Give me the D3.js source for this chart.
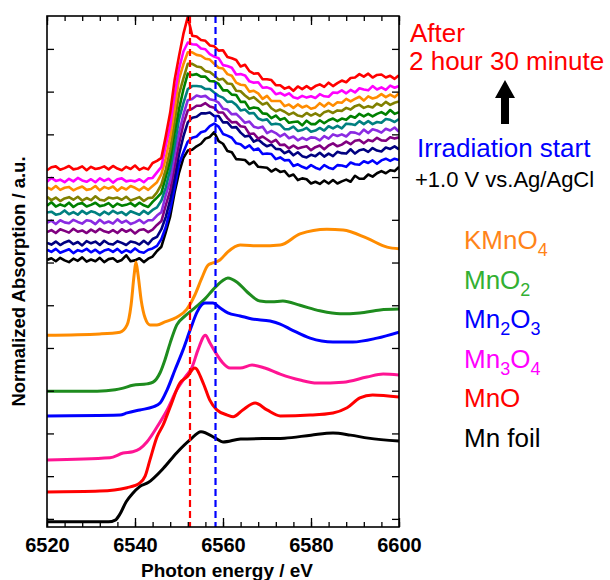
<!DOCTYPE html>
<html>
<head>
<meta charset="utf-8">
<script src="https://cdn.jsdelivr.net/npm/d3@7"></script>
<style>
  body { margin: 0; background: #fff; }
  svg { display: block; font-family: "Liberation Sans", Arial, sans-serif; }
</style>
</head>
<body>
<div id="chart"></div>
<script>
// in-situ spectra, 1 eV steps, stacked bottom (start) to top (2 h 30 min)
const insituEnergy = [
  6520, 6521, 6522, 6523, 6524, 6525, 6526, 6527, 6528, 6529,
  6530, 6531, 6532, 6533, 6534, 6535, 6536, 6537, 6538, 6539,
  6540, 6541, 6542, 6543, 6544, 6545, 6546, 6547, 6548, 6549,
  6550, 6551, 6552, 6553, 6554, 6555, 6556, 6557, 6558, 6559,
  6560, 6561, 6562, 6563, 6564, 6565, 6566, 6567, 6568, 6569,
  6570, 6571, 6572, 6573, 6574, 6575, 6576, 6577, 6578, 6579,
  6580, 6581, 6582, 6583, 6584, 6585, 6586, 6587, 6588, 6589,
  6590, 6591, 6592, 6593, 6594, 6595, 6596, 6597, 6598, 6599, 6600];

const insitu0 = [6.06, 6.10, 6.03, 6.11, 6.05, 6.01, 6.09, 6.04, 6.12, 6.02, 6.07, 6.03, 6.11, 6.01, 6.08, 6.10, 6.02, 6.06, 6.17, 6.03, 6.05, 6.10, 6.01, 6.09, 6.14,
  6.27, 6.37, 6.71, 7.08, 7.64, 8.10, 8.45, 8.62, 8.64, 8.72, 8.78, 8.90, 8.94, 9.05,
  8.84, 8.78, 8.61, 8.58, 8.42, 8.41, 8.40, 8.30, 8.36, 8.24, 8.23, 8.22, 8.13, 8.19, 8.12, 8.14, 8.02, 8.06, 7.93, 7.97, 7.95, 7.85, 7.89, 7.84, 7.92, 7.85, 7.93, 7.85, 7.90, 7.94, 7.89, 8.03, 7.96, 7.96, 8.06, 8.01, 8.09, 8.14, 8.09, 8.16, 8.14, 8.24];
const insitu1 = [6.30, 6.25, 6.32, 6.23, 6.27, 6.31, 6.22, 6.29, 6.26, 6.32, 6.24, 6.30, 6.22, 6.28, 6.31, 6.25, 6.32, 6.23, 6.29, 6.24, 6.33, 6.25, 6.23, 6.30, 6.33,
  6.39, 6.55, 6.83, 7.24, 7.75, 8.30, 8.58, 8.83, 8.92, 8.95, 9.05, 9.08, 9.19, 9.25,
  9.18, 9.01, 8.97, 8.92, 8.79, 8.77, 8.68, 8.74, 8.63, 8.67, 8.54, 8.55, 8.54, 8.42, 8.46, 8.39, 8.40, 8.26, 8.30, 8.24, 8.20, 8.28, 8.22, 8.18, 8.28, 8.22, 8.19, 8.28, 8.27, 8.24, 8.34, 8.30, 8.29, 8.37, 8.33, 8.39, 8.31, 8.39, 8.43, 8.38, 8.43, 8.40];
const insitu2 = [6.46, 6.42, 6.49, 6.41, 6.47, 6.51, 6.43, 6.48, 6.40, 6.50, 6.45, 6.49, 6.41, 6.51, 6.44, 6.42, 6.50, 6.46, 6.41, 6.49, 6.47, 6.42, 6.51, 6.43, 6.55,
  6.60, 6.78, 7.07, 7.47, 7.98, 8.53, 8.95, 9.28, 9.39, 9.41, 9.49, 9.49, 9.51, 9.43,
  9.43, 9.28, 9.28, 9.16, 9.17, 9.04, 8.95, 8.97, 8.83, 8.88, 8.79, 8.72, 8.76, 8.66, 8.65, 8.56, 8.61, 8.51, 8.58, 8.49, 8.46, 8.52, 8.49, 8.57, 8.48, 8.55, 8.49, 8.59, 8.56, 8.55, 8.65, 8.55, 8.63, 8.65, 8.59, 8.68, 8.62, 8.60, 8.69, 8.66, 8.72, 8.65];
const insitu3 = [6.71, 6.76, 6.69, 6.78, 6.74, 6.70, 6.79, 6.72, 6.75, 6.69, 6.77, 6.71, 6.79, 6.73, 6.70, 6.76, 6.69, 6.78, 6.72, 6.77, 6.68, 6.76, 6.78, 6.71, 6.77,
  6.88, 6.97, 7.34, 7.69, 8.25, 8.78, 9.24, 9.56, 9.60, 9.67, 9.67, 9.73, 9.65, 9.62,
  9.51, 9.51, 9.38, 9.28, 9.29, 9.19, 9.17, 9.01, 9.02, 8.90, 8.95, 8.88, 8.81, 8.87, 8.75, 8.76, 8.67, 8.74, 8.67, 8.70, 8.72, 8.63, 8.70, 8.74, 8.65, 8.74, 8.79, 8.72, 8.76, 8.83, 8.77, 8.85, 8.87, 8.79, 8.87, 8.84, 8.92, 8.86, 8.85, 8.93, 8.90, 8.93];
const insitu4 = [6.93, 6.98, 6.90, 6.99, 6.94, 6.92, 7.00, 6.95, 6.91, 6.99, 6.97, 6.90, 7.00, 6.92, 6.96, 6.91, 7.01, 6.93, 6.98, 6.90, 6.94, 7.00, 6.92, 6.99, 6.99,
  7.10, 7.18, 7.58, 7.92, 8.52, 9.03, 9.46, 9.80, 9.83, 9.91, 9.88, 9.90, 9.82, 9.80,
  9.74, 9.60, 9.58, 9.47, 9.48, 9.38, 9.27, 9.30, 9.18, 9.15, 9.18, 9.03, 9.08, 9.03, 8.95, 9.01, 8.91, 8.95, 8.86, 8.92, 8.87, 8.93, 8.92, 8.86, 8.96, 8.90, 9.00, 8.96, 9.00, 8.95, 9.05, 9.04, 9.00, 9.11, 9.03, 9.12, 9.09, 9.04, 9.13, 9.09, 9.16, 9.06];
const insitu5 = [7.17, 7.19, 7.12, 7.14, 7.22, 7.13, 7.18, 7.12, 7.21, 7.14, 7.20, 7.17, 7.11, 7.19, 7.13, 7.21, 7.15, 7.18, 7.11, 7.20, 7.16, 7.12, 7.21, 7.14, 7.23,
  7.29, 7.45, 7.76, 8.18, 8.74, 9.35, 9.73, 10.06, 10.13, 10.13, 10.12, 10.06, 10.06, 9.98,
  9.90, 9.86, 9.76, 9.77, 9.69, 9.56, 9.58, 9.49, 9.50, 9.37, 9.33, 9.35, 9.23, 9.25, 9.23, 9.12, 9.12, 9.18, 9.08, 9.10, 9.15, 9.06, 9.09, 9.15, 9.09, 9.19, 9.14, 9.20, 9.14, 9.25, 9.24, 9.22, 9.31, 9.24, 9.31, 9.24, 9.29, 9.27, 9.36, 9.34, 9.29, 9.36];
const insitu6 = [7.33, 7.41, 7.31, 7.36, 7.32, 7.40, 7.30, 7.37, 7.39, 7.31, 7.35, 7.40, 7.32, 7.34, 7.39, 7.30, 7.38, 7.33, 7.35, 7.39, 7.32, 7.40, 7.34, 7.30, 7.42,
  7.52, 7.63, 8.01, 8.39, 9.04, 9.59, 10.05, 10.42, 10.39, 10.41, 10.35, 10.35, 10.25, 10.24,
  10.18, 10.03, 10.03, 9.93, 9.92, 9.76, 9.76, 9.60, 9.63, 9.61, 9.49, 9.48, 9.38, 9.44, 9.34, 9.38, 9.27, 9.29, 9.30, 9.21, 9.32, 9.24, 9.24, 9.33, 9.26, 9.33, 9.37, 9.31, 9.37, 9.34, 9.43, 9.39, 9.48, 9.42, 9.48, 9.42, 9.48, 9.52, 9.46, 9.57, 9.48, 9.52];
const insitu7 = [7.54, 7.46, 7.52, 7.44, 7.50, 7.53, 7.47, 7.54, 7.45, 7.51, 7.46, 7.55, 7.47, 7.45, 7.52, 7.50, 7.52, 7.47, 7.54, 7.45, 7.49, 7.53, 7.44, 7.51, 7.52,
  7.64, 7.83, 8.18, 8.64, 9.30, 9.94, 10.31, 10.65, 10.65, 10.59, 10.57, 10.48, 10.46, 10.38,
  10.28, 10.30, 10.19, 10.18, 10.02, 10.01, 9.91, 9.83, 9.87, 9.78, 9.70, 9.74, 9.61, 9.54, 9.58, 9.53, 9.46, 9.51, 9.44, 9.42, 9.50, 9.44, 9.49, 9.43, 9.52, 9.55, 9.50, 9.56, 9.55, 9.62, 9.58, 9.66, 9.69, 9.62, 9.66, 9.63, 9.72, 9.67, 9.76, 9.69, 9.74, 9.77];
const insitu8 = [7.76, 7.71, 7.79, 7.70, 7.75, 7.77, 7.69, 7.74, 7.78, 7.70, 7.72, 7.79, 7.69, 7.77, 7.73, 7.78, 7.68, 7.76, 7.71, 7.79, 7.75, 7.69, 7.77, 7.70, 7.79,
  7.88, 8.07, 8.44, 8.95, 9.60, 10.29, 10.64, 10.92, 10.92, 10.86, 10.84, 10.77, 10.75, 10.65,
  10.56, 10.54, 10.41, 10.37, 10.21, 10.16, 10.15, 10.00, 10.02, 9.96, 9.83, 9.90, 9.78, 9.78, 9.78, 9.66, 9.70, 9.62, 9.70, 9.63, 9.67, 9.60, 9.63, 9.73, 9.65, 9.74, 9.67, 9.75, 9.74, 9.83, 9.77, 9.83, 9.88, 9.79, 9.89, 9.84, 9.87, 9.94, 9.87, 9.93, 9.87, 9.96];
const insitu9 = [7.89, 7.98, 7.91, 7.94, 7.88, 7.96, 7.90, 7.98, 7.92, 7.89, 7.95, 7.88, 7.97, 7.91, 7.96, 7.87, 7.95, 7.97, 7.90, 7.92, 7.90, 7.95, 7.88, 7.97, 7.98,
  8.11, 8.24, 8.74, 9.21, 9.92, 10.53, 10.94, 11.15, 11.11, 11.10, 11.01, 10.99, 10.88, 10.82,
  10.78, 10.62, 10.60, 10.56, 10.40, 10.41, 10.38, 10.24, 10.21, 10.22, 10.09, 10.10, 10.06, 9.94, 9.97, 9.91, 9.96, 9.87, 9.84, 9.90, 9.86, 9.89, 9.85, 9.94, 9.89, 9.88, 9.98, 9.97, 10.03, 9.96, 10.04, 9.98, 10.08, 10.05, 10.03, 10.13, 10.05, 10.10, 10.04, 10.14, 10.09, 10.13];
const insitu10 = [8.16, 8.23, 8.25, 8.17, 8.21, 8.26, 8.18, 8.20, 8.25, 8.16, 8.24, 8.19, 8.21, 8.25, 8.18, 8.26, 8.20, 8.16, 8.24, 8.19, 8.27, 8.17, 8.22, 8.18, 8.33,
  8.38, 8.45, 8.96, 9.51, 10.27, 10.83, 11.35, 11.75, 11.31, 11.29, 11.21, 11.19, 11.08, 11.06,
  10.96, 10.97, 10.81, 10.78, 10.74, 10.59, 10.63, 10.48, 10.42, 10.43, 10.29, 10.29, 10.27, 10.15, 10.15, 10.07, 10.11, 10.02, 10.12, 10.06, 10.13, 10.06, 10.13, 10.17, 10.11, 10.21, 10.13, 10.20, 10.26, 10.22, 10.32, 10.33, 10.41, 10.35, 10.42, 10.33, 10.39, 10.40, 10.33, 10.37, 10.30, 10.38];

const insituSeries = [insitu0, insitu1, insitu2, insitu3, insitu4, insitu5, insitu6, insitu7, insitu8, insitu9, insitu10];
const insituColors = ["#000000", "#0000ff", "#000080", "#800080", "#8a2be2", "#008080", "#008000", "#808000", "#ff8c00", "#ff00ff", "#ff0000"];

// reference spectra, [energy, absorption]
const refKMnO4 = [[6520, 4.30], [6532, 4.33], [6536.6, 4.37], [6538.2, 4.54], [6539.1, 5.00], [6539.8, 5.71], [6540.2, 6.01], [6540.7, 5.71], [6541.4, 5.12], [6542.3, 4.70], [6543.4, 4.54], [6545, 4.54], [6546.8, 4.61], [6549.5, 4.72], [6551.8, 4.91], [6553.6, 5.24], [6555.2, 5.64], [6556.6, 5.94], [6557.7, 5.99], [6559.3, 6.06], [6561.1, 6.25], [6563.9, 6.41], [6568.4, 6.39], [6573, 6.41], [6577.5, 6.67], [6583.6, 6.78], [6587.3, 6.76], [6592.7, 6.57], [6597.3, 6.36], [6600, 6.32]];
const refMnO2 = [[6520, 2.99], [6531.4, 2.99], [6535.5, 3.02], [6537.3, 3.06], [6539.5, 3.13], [6542.7, 3.16], [6544.1, 3.20], [6545.7, 3.42], [6546.8, 3.72], [6548, 4.12], [6549.5, 4.54], [6551.4, 4.75], [6553.6, 4.94], [6555.9, 5.15], [6557.7, 5.36], [6559.8, 5.57], [6561.1, 5.64], [6563.2, 5.54], [6565.5, 5.31], [6568.4, 5.10], [6571.1, 5.08], [6573.6, 5.10], [6577.5, 5.00], [6582, 4.87], [6586.6, 4.80], [6591.1, 4.82], [6595.7, 4.89], [6600, 4.91]];
const refMn2O3 = [[6520, 2.41], [6536.6, 2.43], [6538.2, 2.48], [6541.1, 2.55], [6544.1, 2.62], [6545.7, 2.71], [6547.3, 3.02], [6549.1, 3.49], [6550.9, 3.95], [6552.7, 4.47], [6554.1, 4.84], [6555.9, 5.05], [6557.7, 5.05], [6559.3, 4.94], [6561.1, 4.82], [6563.9, 4.75], [6566.6, 4.68], [6570.7, 4.63], [6573, 4.56], [6575.7, 4.42], [6579.8, 4.23], [6585, 4.14], [6589.5, 4.14], [6595, 4.23], [6600, 4.37]];
const refMn3O4 = [[6520, 1.38], [6534.3, 1.43], [6537.3, 1.54], [6539.5, 1.57], [6541.1, 1.64], [6542.7, 1.80], [6545, 2.15], [6547.3, 2.55], [6549.5, 3.02], [6551.4, 3.32], [6553, 3.56], [6554.3, 3.95], [6556, 4.30], [6557, 4.12], [6558.2, 3.91], [6559.8, 3.67], [6561.6, 3.53], [6563.9, 3.53], [6566.6, 3.60], [6569.5, 3.53], [6573, 3.39], [6577.5, 3.25], [6581.4, 3.18], [6587.3, 3.20], [6592.7, 3.32], [6596.4, 3.39], [6600, 3.37]];
const refMnO = [[6520, 0.63], [6532, 0.65], [6538.2, 0.73], [6541.1, 0.84], [6542.3, 1.00], [6543.4, 1.38], [6545, 1.92], [6546.4, 2.20], [6548, 2.62], [6550.2, 3.18], [6551.8, 3.32], [6553.6, 3.53], [6555.5, 3.18], [6557, 2.78], [6558.6, 2.55], [6561, 2.43], [6562.3, 2.39], [6564.5, 2.55], [6567.3, 2.71], [6570, 2.55], [6573, 2.41], [6579.8, 2.43], [6585, 2.48], [6588.2, 2.60], [6591.1, 2.83], [6594, 2.90], [6600, 2.85]];
const refMnFoil = [[6520, -0.07], [6534, -0.07], [6535.5, -0.03], [6536.5, 0.10], [6538, 0.40], [6539.5, 0.60], [6541, 0.75], [6543, 0.85], [6546.5, 1.19], [6549.5, 1.55], [6552.5, 1.85], [6555, 2.04], [6558.3, 1.89], [6560, 1.80], [6564, 1.87], [6574, 1.89], [6580, 1.96], [6585, 2.01], [6589, 1.96], [6593, 1.89], [6600, 1.82]];

const refSeries = [refKMnO4, refMnO2, refMn2O3, refMn3O4, refMnO, refMnFoil];
const refLabels = ["KMnO_4", "MnO_2", "Mn_2O_3", "Mn_3O_4", "MnO", "Mn foil"];
const refLineColors = ["#ff8c00", "#1e8c1e", "#0000ff", "#ff1493", "#ff0000", "#000000"];
const refTextColors = ["#ff8419", "#33b033", "#0000ff", "#ff00ff", "#ff0000", "#000000"];

// marker energies (dashed lines)
const markerEnergy = [6552.5, 6558.3];
const markerColors = ["#ff0000", "#0000ff"];

const xTicks = [6520, 6540, 6560, 6580, 6600];

const width = 610;
const height = 580;
const marginTop = 16;
const marginRight = 211;
const marginBottom = 53;
const marginLeft = 47;

const x = d3.scaleLinear()
  .domain([6520, 6600])
  .range([marginLeft, width - marginRight]);

const y = d3.scaleLinear()
  .domain([-0.19, 11.77])
  .range([height - marginBottom, marginTop]);

const svg = d3.select("#chart")
  .append("svg")
  .attr("width", width)
  .attr("height", height)
  .attr("viewBox", [0, 0, width, height]);

svg.append("clipPath")
  .attr("id", "plot-clip")
  .append("rect")
  .attr("x", marginLeft)
  .attr("y", marginTop)
  .attr("width", width - marginLeft - marginRight)
  .attr("height", height - marginTop - marginBottom);

const plot = svg.append("g").attr("clip-path", "url(#plot-clip)");

const line = d3.line()
  .x(d => x(d[0]))
  .y(d => y(d[1]));

const smoothLine = d3.line()
  .x(d => x(d[0]))
  .y(d => y(d[1]))
  .curve(d3.curveMonotoneX);

// noisy in-situ spectra
plot.append("g")
  .attr("fill", "none")
  .attr("stroke-width", 2.6)
  .attr("stroke-linejoin", "round")
  .selectAll("path")
  .data(insituSeries)
  .join("path")
  .attr("stroke", (d, i) => insituColors[i])
  .attr("d", d => line(d.map((v, i) => [insituEnergy[i], v])));

// reference compounds
plot.append("g")
  .attr("fill", "none")
  .attr("stroke-width", 3)
  .selectAll("path")
  .data(refSeries)
  .join("path")
  .attr("stroke", (d, i) => refLineColors[i])
  .attr("d", d => smoothLine(d));

// dashed markers
plot.append("g")
  .selectAll("line")
  .data(markerEnergy)
  .join("line")
  .attr("x1", d => x(d))
  .attr("x2", d => x(d))
  .attr("y1", marginTop)
  .attr("y2", height - marginBottom)
  .attr("stroke", (d, i) => markerColors[i])
  .attr("stroke-width", 2.2)
  .attr("stroke-dasharray", "7,4");

// axes, ticks pointing inward
const minorTicks = d3.range(6520, 6601, 4);
const yTicks = d3.range(0, 12);

svg.append("g")
  .attr("transform", `translate(0,${height - marginBottom})`)
  .call(d3.axisBottom(x).tickValues(minorTicks).tickSize(-5).tickFormat(""));
svg.append("g")
  .attr("transform", `translate(0,${height - marginBottom})`)
  .call(d3.axisBottom(x).tickValues(xTicks).tickSize(-9).tickPadding(11).tickFormat(d3.format("d")))
  .attr("font-size", 20)
  .attr("font-weight", "bold")
  .attr("font-family", "Liberation Sans, Arial, sans-serif");
svg.append("g")
  .attr("transform", `translate(0,${marginTop})`)
  .call(d3.axisTop(x).tickValues(minorTicks).tickSize(-5).tickFormat(""));
svg.append("g")
  .attr("transform", `translate(0,${marginTop})`)
  .call(d3.axisTop(x).tickValues(xTicks).tickSize(-9).tickFormat(""));
svg.append("g")
  .attr("transform", `translate(${marginLeft},0)`)
  .call(d3.axisLeft(y).tickValues(yTicks).tickSize(-7).tickFormat(""));
svg.append("g")
  .attr("transform", `translate(${width - marginRight},0)`)
  .call(d3.axisRight(y).tickValues(yTicks).tickSize(-7).tickFormat(""));

svg.selectAll(".domain").remove();
svg.selectAll(".tick line").attr("stroke-width", 1.3);

svg.append("rect")
  .attr("x", marginLeft)
  .attr("y", marginTop)
  .attr("width", width - marginLeft - marginRight)
  .attr("height", height - marginTop - marginBottom)
  .attr("fill", "none")
  .attr("stroke", "#000")
  .attr("stroke-width", 1.6);

// axis titles
svg.append("text")
  .attr("x", (marginLeft + width - marginRight) / 2 + 4)
  .attr("y", 577)
  .attr("text-anchor", "middle")
  .attr("font-size", 19)
  .attr("font-weight", "bold")
  .text("Photon energy / eV");

svg.append("text")
  .attr("transform", `translate(25,${(marginTop + height - marginBottom) / 2 + 10}) rotate(-90)`)
  .attr("text-anchor", "middle")
  .attr("font-size", 18.5)
  .attr("font-weight", "bold")
  .text("Normalized Absorption / a.u.");

// legend for reference compounds, "_n" marks a subscript
const legendX = 464;
const legendTop = 256;
const legendStep = 39.6;

const legend = svg.append("g").attr("font-size", 26);
refLabels.forEach((label, i) => {
  const t = legend.append("text")
    .attr("x", legendX)
    .attr("y", legendTop + i * legendStep)
    .attr("fill", refTextColors[i]);
  label.split(/(_\d)/).filter(s => s).forEach(part => {
    if (part.startsWith("_")) {
      t.append("tspan").attr("font-size", 18).attr("dy", 7).text(part.slice(1));
    } else {
      t.append("tspan").attr("dy", t.selectAll("tspan").size() ? -7 : 0).text(part);
    }
  });
});

// time annotation
const note = svg.append("g").attr("text-anchor", "start");
note.append("text").attr("x", 410).attr("y", 42).attr("font-size", 26).attr("fill", "#ff0000").text("After");
note.append("text").attr("x", 409).attr("y", 70).attr("font-size", 26).attr("fill", "#ff0000").text("2 hour 30 minute");
note.append("text").attr("x", 417).attr("y", 157).attr("font-size", 26).attr("fill", "#0000ff").text("Irradiation start");
note.append("text").attr("x", 415).attr("y", 187).attr("font-size", 22).attr("fill", "#000").text("+1.0 V vs.Ag/AgCl");

const arrowX = 505;
const arrowTip = 80;
note.append("path")
  .attr("fill", "#000")
  .attr("d", `M${arrowX},${arrowTip} L${arrowX + 10},${arrowTip + 18} L${arrowX + 4},${arrowTip + 18}
    L${arrowX + 4},${arrowTip + 44} L${arrowX - 4},${arrowTip + 44} L${arrowX - 4},${arrowTip + 18}
    L${arrowX - 10},${arrowTip + 18} Z`);
</script>
</body>
</html>
